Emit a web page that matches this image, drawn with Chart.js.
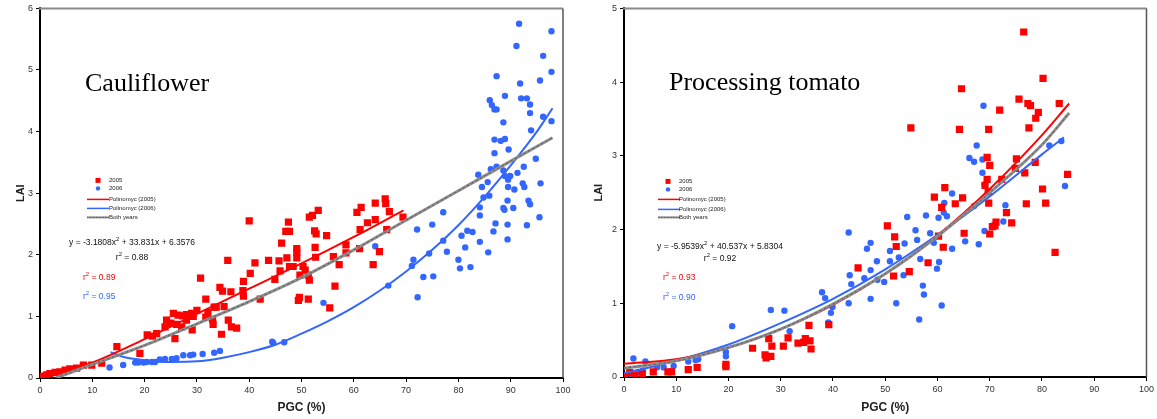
<!DOCTYPE html>
<html><head><meta charset="utf-8">
<script src="https://cdn.jsdelivr.net/npm/chart.js@4.4.1/dist/chart.umd.min.js"></script>
<style>
html,body{margin:0;padding:0;background:#fff;}
#wrap{position:relative;width:1157px;height:419px;overflow:hidden;background:#fff;}
.box{position:absolute;top:0;height:419px;}
#b1{left:0;width:578px;}
#b2{left:578px;width:579px;}
</style></head><body>
<div id="wrap"><div class="box" id="b1"><canvas id="c1"></canvas></div><div class="box" id="b2"><canvas id="c2"></canvas></div></div>
<script>
// ---------- Cauliflower data ----------
const cauli2005 = [[0.6,0.03],[1.3,0.05],[1.9,0.07],[2.9,0.09],[3.8,0.10],[4.8,0.13],[5.7,0.15],[7.0,0.16],[8.3,0.21],[9.9,0.21],[11.8,0.24],[14.7,0.51],[19.1,0.40],[20.5,0.70],[21.5,0.68],[22.3,0.72],[23.9,0.83],[24.2,0.94],[25.0,0.89],[25.5,1.05],[25.8,0.64],[26.1,0.87],[26.4,1.02],[27.1,0.83],[27.3,1.01],[28.0,1.03],[28.0,0.94],[29.0,1.05],[29.1,0.78],[29.3,1.00],[30.0,1.10],[30.7,1.62],[31.7,1.28],[31.7,0.99],[32.1,1.06],[33.0,0.95],[33.1,0.87],[33.3,1.15],[33.7,1.15],[34.4,1.47],[34.7,0.71],[34.9,1.41],[35.2,1.16],[35.9,1.91],[36.0,0.94],[36.5,1.40],[36.6,0.83],[37.6,0.81],[38.8,1.42],[38.9,1.57],[38.9,1.33],[40.0,2.55],[40.2,1.70],[41.1,1.87],[42.1,1.28],[43.7,1.91],[44.9,1.60],[45.7,1.90],[45.9,1.74],[46.2,2.19],[47.0,2.38],[47.2,1.95],[47.5,2.53],[47.7,2.38],[47.7,1.81],[48.4,1.81],[49.1,2.10],[49.1,2.04],[49.1,1.95],[49.4,1.26],[49.6,1.31],[49.7,1.67],[50.3,1.81],[50.7,1.75],[51.3,1.67],[51.3,1.28],[51.5,1.59],[51.5,2.61],[52.1,2.64],[52.5,2.39],[52.6,2.12],[52.7,1.96],[52.8,2.34],[53.2,2.72],[54.8,2.31],[55.4,1.14],[56.1,1.97],[56.4,1.49],[57.2,1.84],[58.5,2.16],[58.5,2.03],[60.6,2.69],[61.1,2.10],[61.2,2.41],[61.4,2.77],[62.6,2.52],[63.7,1.84],[64.1,2.84],[64.1,2.57],[64.9,2.05],[66.0,2.91],[66.1,2.83],[66.3,2.41],[66.8,2.70],[69.4,2.61]];
const cauli2006 = [[13.3,0.17],[15.9,0.21],[18.2,0.25],[18.8,0.25],[19.8,0.25],[20.4,0.26],[21.4,0.26],[22.0,0.26],[22.9,0.30],[23.9,0.31],[25.2,0.31],[26.1,0.32],[27.4,0.37],[28.7,0.37],[29.3,0.38],[31.1,0.39],[33.3,0.41],[34.4,0.44],[44.4,0.59],[44.6,0.57],[46.7,0.58],[54.2,1.22],[64.1,2.14],[66.6,1.50],[71.1,1.82],[71.4,1.92],[72.1,2.41],[72.2,1.31],[73.3,1.64],[74.4,2.02],[75.0,2.49],[75.2,1.65],[77.1,2.69],[77.1,2.23],[77.8,2.05],[80.0,1.92],[80.3,1.78],[80.6,2.31],[81.3,2.12],[81.7,2.39],[82.3,1.80],[82.7,2.37],[83.8,3.30],[84.1,2.77],[84.1,2.64],[84.1,2.21],[84.5,3.10],[84.8,2.93],[85.6,3.18],[85.7,2.04],[85.9,2.96],[86.0,4.51],[86.2,3.39],[86.4,4.43],[86.7,2.38],[86.9,4.36],[86.9,3.87],[86.9,3.65],[87.1,2.51],[87.3,4.90],[87.3,4.36],[87.3,3.43],[88.1,3.85],[88.6,4.15],[88.6,3.37],[88.6,2.76],[88.8,2.73],[88.9,4.58],[88.9,3.88],[88.9,3.28],[89.4,2.88],[89.4,2.49],[89.4,2.25],[89.5,3.22],[89.5,3.10],[89.6,3.71],[89.9,3.28],[90.5,2.76],[90.7,3.06],[91.1,5.39],[91.3,3.33],[91.6,5.75],[91.8,4.78],[92.0,4.54],[92.3,3.16],[92.5,3.43],[92.6,3.10],[93.1,4.54],[93.1,2.48],[93.4,2.88],[93.7,4.44],[93.7,4.30],[93.7,2.82],[93.9,4.02],[94.8,3.56],[95.5,2.61],[95.6,4.83],[95.7,3.16],[96.2,5.23],[96.2,4.24],[97.8,5.63],[97.8,4.97],[97.8,4.17]];
const cauliFitX2005 = [0, 10, 20, 30, 40, 50, 60, 69.5];
const cauliFitY2005 = [0.0, 0.25, 0.63, 1.04, 1.45, 1.86, 2.29, 2.72];
const cauliFitX2006 = [13.5, 16, 20, 25, 30, 35, 40, 45, 50, 55, 60, 65, 70, 75, 80, 85, 90, 95, 98];
const cauliFitY2006 = [0.42, 0.34, 0.29, 0.26, 0.27, 0.33, 0.42, 0.54, 0.72, 0.92, 1.15, 1.42, 1.73, 2.08, 2.48, 2.94, 3.45, 4.0, 4.38];
const cauliFitXBoth = [3, 10, 20, 30, 40, 50, 60, 70, 80, 90, 98];
const cauliFitYBoth = [0.0, 0.22, 0.53, 0.88, 1.24, 1.63, 2.08, 2.56, 3.04, 3.52, 3.9];

// ---------- Processing tomato data ----------
const tomato2005 = [[0,0],[1.1,0.06],[2.1,0.02],[3.5,0.04],[5.6,0.07],[8.4,0.07],[9.1,0.07],[12.3,0.10],[14.0,0.13],[19.5,0.17],[19.5,0.14],[24.6,0.39],[27.0,0.30],[27.2,0.26],[28.1,0.28],[27.7,0.52],[28.3,0.42],[30.5,0.42],[31.4,0.53],[33.3,0.46],[34.4,0.47],[34.7,0.52],[35.6,0.49],[35.8,0.38],[35.4,0.70],[39.2,0.71],[44.8,1.48],[50.4,2.05],[51.6,1.37],[51.8,1.90],[52.1,1.77],[54.6,1.43],[54.9,3.38],[58.2,1.55],[59.4,2.44],[60.2,1.91],[60.8,2.30],[61.1,1.76],[61.4,2.57],[63.4,2.35],[64.2,3.36],[64.6,3.91],[64.8,2.43],[65.1,1.95],[69.1,2.60],[69.5,2.98],[69.5,2.68],[69.7,2.51],[69.8,3.36],[69.8,2.36],[70.0,2.87],[70.0,1.94],[70.5,2.04],[71.0,2.05],[71.2,2.10],[71.9,3.62],[72.3,2.68],[73.2,2.23],[74.2,2.09],[74.9,2.83],[75.1,2.96],[75.6,3.77],[76.5,4.68],[76.7,2.77],[77.0,2.35],[77.3,3.71],[77.5,3.38],[77.8,3.68],[78.7,2.91],[78.8,3.51],[79.3,3.59],[80.1,2.55],[80.2,4.05],[80.7,2.36],[82.5,1.69],[83.3,3.71],[84.9,2.75]];
const tomato2006 = [[0.2,0.01],[1.4,0.04],[1.8,0.25],[2.7,0.07],[3.6,0.09],[4.1,0.21],[6.3,0.13],[7.6,0.13],[9.5,0.15],[12.3,0.21],[13.7,0.23],[14.2,0.24],[19.5,0.34],[19.5,0.28],[20.7,0.69],[28.1,0.91],[30.7,0.90],[31.7,0.62],[37.9,1.15],[38.5,1.07],[39.1,0.74],[39.6,0.87],[39.9,0.95],[43.0,1.96],[43.0,1.00],[43.2,1.38],[43.5,1.26],[46.0,1.34],[46.5,1.74],[47.2,1.82],[47.2,1.45],[47.2,1.06],[48.4,1.57],[48.5,1.32],[49.8,1.29],[50.9,1.71],[50.9,1.57],[52.1,1.00],[52.6,1.62],[53.5,1.38],[53.7,1.81],[54.2,2.17],[55.8,1.99],[56.1,1.86],[56.5,0.78],[56.7,1.60],[57.2,1.24],[57.4,1.12],[57.8,2.19],[58.6,1.95],[59.3,1.82],[59.9,1.47],[60.2,2.16],[60.3,1.56],[60.8,0.97],[61.2,2.23],[61.3,2.36],[61.8,2.18],[62.8,1.74],[62.8,2.49],[65.3,1.84],[66.1,2.97],[67.0,2.92],[67.0,2.32],[67.5,3.14],[67.9,1.80],[68.6,2.95],[68.6,2.77],[68.8,3.68],[69.0,2.61],[69.0,1.98],[72.6,2.11],[73.0,2.33],[81.4,3.14],[83.7,3.20],[84.4,2.59]];
const tomatoFitX = [0, 10, 20, 30, 40, 50, 60, 70, 80, 85.2];
const tomatoFitY2005 = [0.18, 0.24, 0.40, 0.65, 0.98, 1.40, 1.92, 2.55, 3.28, 3.71];
const tomatoFitX2006 = [0, 10, 20, 30, 40, 50, 60, 70, 80, 84.2];
const tomatoFitY2006 = [0.05, 0.22, 0.44, 0.73, 1.06, 1.46, 1.93, 2.45, 3.02, 3.25];
const tomatoFitYBoth = [0.12, 0.22, 0.40, 0.65, 0.99, 1.40, 1.91, 2.50, 3.15, 3.58];

// ---------- Axis ticks & labels ----------
const xTicks = [0,10,20,30,40,50,60,70,80,90,100];
const cauliYMax = 6, tomatoYMax = 5;
const legendLabels = ['2005','2006','Polinomyc (2005)','Polinomyc (2006)','Both years'];
const cauliEq = ['y = -3.1808x', ' + 33.831x + 6.3576'];
const tomatoEq = ['y = -5.9539x', ' + 40.537x + 5.8304'];
const cauliR2 = ['0.88','0.89','0.95'];
const tomatoR2 = ['0.92','0.93','0.90'];

const RED = '#FF0000', BLUE = '#3366FF', GRAY = '#8c8c8c';
const pts = a => a.map(p => ({x:p[0], y:p[1]}));
const zip = (xs, ys) => xs.map((x,i) => ({x, y: ys[i]}));

function drawRich(ctx, parts, x, y, align, size, color) {
  ctx.fillStyle = color;
  ctx.textBaseline = 'middle';
  ctx.textAlign = 'left';
  let w = 0;
  parts.forEach(p => { ctx.font = (p.sup ? size*0.7 : size) + 'px "Liberation Sans", Arial, sans-serif'; w += ctx.measureText(p.t).width; });
  let cx = align === 'center' ? x - w/2 : x;
  parts.forEach(p => {
    ctx.font = (p.sup ? size*0.7 : size) + 'px "Liberation Sans", Arial, sans-serif';
    ctx.fillText(p.t, cx, p.sup ? y - size*0.4 : y);
    cx += ctx.measureText(p.t).width;
  });
}

const annotPlugin = {
  id: 'annot',
  afterDraw(chart, args, o) {
    const {ctx, chartArea: a} = chart;
    const L = a.left, T = a.top;
    ctx.save();
    // frame top/right
    ctx.strokeStyle = '#8a8a8a'; ctx.lineWidth = 2;
    ctx.beginPath(); ctx.moveTo(L-1, T); ctx.lineTo(a.right, T); ctx.stroke();
    ctx.strokeStyle = '#555'; ctx.lineWidth = 1.5;
    ctx.beginPath(); ctx.moveTo(a.right, T); ctx.lineTo(a.right, a.bottom); ctx.stroke();
    // title
    ctx.fillStyle = '#000'; ctx.textBaseline = 'middle'; ctx.textAlign = 'left';
    ctx.font = o.titleSize + 'px "Liberation Serif", "Times New Roman", serif';
    ctx.fillText(o.title, L + o.titleX, T + o.titleY);
    // legend
    const lg = o.legend;
    legendLabels.forEach((lab, i) => {
      const y = T + lg.ys[i];
      if (i === 0) { ctx.fillStyle = RED; ctx.fillRect(L + lg.mx - 2.5, y - 2.5, 5, 5); }
      else if (i === 1) { ctx.fillStyle = BLUE; ctx.beginPath(); ctx.arc(L + lg.mx, y, 2.2, 0, Math.PI*2); ctx.fill(); }
      else {
        ctx.strokeStyle = i === 2 ? RED : (i === 3 ? BLUE : GRAY);
        ctx.lineWidth = i === 4 ? 2 : 1.5;
        ctx.beginPath(); ctx.moveTo(L + lg.lx0, y); ctx.lineTo(L + lg.lx1, y); ctx.stroke();
        if (i === 4) { ctx.strokeStyle = '#555'; ctx.lineWidth = 0.8; ctx.setLineDash([1.5,1.5]); ctx.beginPath(); ctx.moveTo(L + lg.lx0, y); ctx.lineTo(L + lg.lx1, y); ctx.stroke(); ctx.setLineDash([]); }
      }
      ctx.fillStyle = '#222'; ctx.textAlign = 'left'; ctx.textBaseline = 'middle';
      ctx.font = '6px "Liberation Sans", Arial, sans-serif';
      ctx.fillText(lab, L + lg.tx, y);
    });
    // equation
    drawRich(ctx, [{t:o.eq[0]},{t:'2',sup:true},{t:o.eq[1]}], L + o.eqX, T + o.eqY, 'center', 8.5, '#111');
    drawRich(ctx, [{t:'r'},{t:'2',sup:true},{t:' = ' + o.r2[0]}], L + o.eqX, T + o.eqY + o.r2dy, 'center', 8.5, '#111');
    drawRich(ctx, [{t:'r'},{t:'2',sup:true},{t:' = ' + o.r2[1]}], L + o.rX, T + o.rY1, 'left', 8.5, RED);
    drawRich(ctx, [{t:'r'},{t:'2',sup:true},{t:' = ' + o.r2[2]}], L + o.rX, T + o.rY2, 'left', 8.5, BLUE);
    ctx.restore();
  }
};

function makeChart(id, cfg) {
  const tickFont = {family: '"Liberation Sans", Arial, sans-serif', size: 9};
  return new Chart(document.getElementById(id), {
    type: 'scatter',
    data: { datasets: [
      {data: pts(cfg.d05), pointStyle: 'rect', pointRadius: 5.1, backgroundColor: RED, borderColor: RED, borderWidth: 0, order: 3},
      {data: pts(cfg.d06), pointStyle: 'circle', pointRadius: 3.2, backgroundColor: BLUE, borderColor: BLUE, borderWidth: 0, order: 3},
      {data: zip(cfg.fx05, cfg.fy05), showLine: true, pointRadius: 0, borderColor: RED, borderWidth: 2, tension: 0.4, cubicInterpolationMode: 'monotone', order: 2},
      {data: zip(cfg.fx06, cfg.fy06), showLine: true, pointRadius: 0, borderColor: BLUE, borderWidth: 2, tension: 0.4, cubicInterpolationMode: 'monotone', order: 2},
      {data: zip(cfg.fxb, cfg.fyb), showLine: true, pointRadius: 0, borderColor: GRAY, borderWidth: 3, tension: 0.4, cubicInterpolationMode: 'monotone', order: 1},
      {data: zip(cfg.fxb, cfg.fyb), showLine: true, pointRadius: 0, borderColor: '#5a5a5a', borderWidth: 1, borderDash: [2,3], tension: 0.4, cubicInterpolationMode: 'monotone', order: 0}
    ]},
    options: {
      responsive: true, maintainAspectRatio: false, animation: false, devicePixelRatio: 1,
      layout: {padding: {top: cfg.padTop, right: cfg.padRight, left: 0, bottom: 0}},
      plugins: {legend: {display: false}, tooltip: {enabled: false}, annot: cfg.annot},
      scales: {
        x: {type: 'linear', min: 0, max: 100,
            afterBuildTicks: s => { s.ticks = xTicks.map(v => ({value: v})); },
            ticks: {font: tickFont, color: '#333', padding: 3, maxRotation: 0, autoSkip: false},
            grid: {drawOnChartArea: false, drawTicks: true, tickLength: 4, color: '#000', lineWidth: 1},
            border: {display: true, color: '#000', width: 2},
            title: {display: true, text: 'PGC (%)', color: '#222', font: {family: '"Liberation Sans", Arial, sans-serif', size: 12, weight: 'bold'}, padding: {top: 0, bottom: 4}},
            afterFit: s => { s.height = cfg.xH; }},
        y: {type: 'linear', min: 0, max: cfg.ymax,
            ticks: {stepSize: 1, font: tickFont, color: '#333', padding: 3},
            grid: {drawOnChartArea: false, drawTicks: true, tickLength: 4, color: '#000', lineWidth: 1},
            border: {display: true, color: '#000', width: 2},
            title: {display: true, text: 'LAI', color: '#222', font: {family: '"Liberation Sans", Arial, sans-serif', size: 11, weight: 'bold'}, padding: {top: 14, bottom: 0}},
            afterFit: s => { s.width = cfg.yW; }}
      }
    },
    plugins: [annotPlugin]
  });
}

makeChart('c1', {
  d05: cauli2005, d06: cauli2006,
  fx05: cauliFitX2005, fy05: cauliFitY2005, fx06: cauliFitX2006, fy06: cauliFitY2006, fxb: cauliFitXBoth, fyb: cauliFitYBoth,
  ymax: cauliYMax, padTop: 7, padRight: 15, xH: 41, yW: 40,
  annot: {title: 'Cauliflower', titleSize: 26, titleX: 45, titleY: 76,
    legend: {ys: [172, 180, 191, 200, 209], mx: 58, tx: 69, lx0: 47, lx1: 69},
    eq: cauliEq, r2: cauliR2, eqX: 92, eqY: 234, r2dy: 15, rX: 43, rY1: 269, rY2: 288}
});
makeChart('c2', {
  d05: tomato2005, d06: tomato2006,
  fx05: tomatoFitX, fy05: tomatoFitY2005, fx06: tomatoFitX2006, fy06: tomatoFitY2006, fxb: tomatoFitX, fyb: tomatoFitYBoth,
  ymax: tomatoYMax, padTop: 8, padRight: 9, xH: 42, yW: 46,
  annot: {title: 'Processing tomato', titleSize: 26, titleX: 45, titleY: 75,
    legend: {ys: [173, 181, 191, 201, 209], mx: 44, tx: 55, lx0: 34, lx1: 56},
    eq: tomatoEq, r2: tomatoR2, eqX: 96, eqY: 238, r2dy: 12, rX: 39, rY1: 269, rY2: 289}
});
</script>
</body></html>
